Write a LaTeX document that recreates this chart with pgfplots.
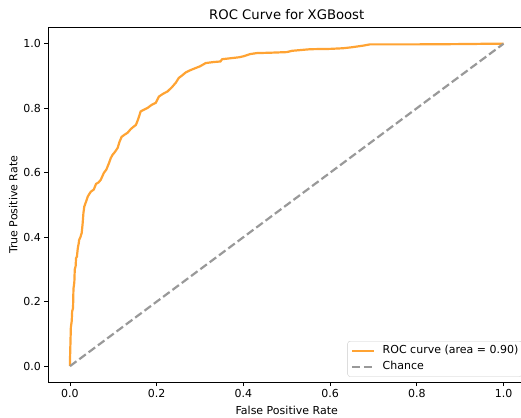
\documentclass[border=0pt]{standalone}
\usepackage{pgfplots}
\pgfplotsset{compat=1.18}
\usepackage{fontspec}
\setmainfont{DejaVu Sans}
\definecolor{rocorange}{RGB}{255,163,51}
\definecolor{chancegray}{RGB}{153,153,153}
\begin{document}
\begin{tikzpicture}
\begin{axis}[
  width=476.7pt, height=354.5pt, scale only axis,
  xmin=-0.05, xmax=1.05, ymin=-0.05, ymax=1.05,
  xtick={0,0.2,0.4,0.6,0.8,1.0}, ytick={0,0.2,0.4,0.6,0.8,1.0},
  xticklabel style={/pgf/number format/.cd,fixed,fixed zerofill,precision=1},
  yticklabel style={/pgf/number format/.cd,fixed,fixed zerofill,precision=1},
  /pgf/number format/assume math mode=true,
  tick label style={font=\fontsize{11}{13}\selectfont},
  tick align=outside, major tick length=3.85pt, xtick pos=lower, ytick pos=left,
  tick style={black, line width=0.88pt},
  axis line style={line width=0.88pt},
  title={ROC Curve for XGBoost},
  title style={font=\fontsize{13.2}{15}\selectfont, at={([yshift=6.6pt]rel axis cs:0.5,1)}, anchor=center},
  xlabel={False Positive Rate}, ylabel={True Positive Rate},
  label style={font=\fontsize{11}{13}\selectfont},
  xlabel style={at={([yshift=-28pt]rel axis cs:0.5,0)}, anchor=center},
  ylabel style={at={([xshift=-35pt]rel axis cs:0,0.5)}, anchor=center},
  legend style={font=\fontsize{11}{13}\selectfont, draw=black!20, fill=white, fill opacity=0.8, text opacity=1, rounded corners=2.5pt, inner xsep=3.6pt, inner ysep=4.4pt, row sep=5.5pt, at={([xshift=-3pt,yshift=5.5pt]rel axis cs:1,0)}, anchor=south east, nodes={inner xsep=0pt, inner ysep=0pt, text height=8pt, text depth=2.5pt}, /tikz/every odd column/.style={column sep=7.3pt}},
  legend cell align=left,
  legend image code/.code={\draw[#1] (0pt,0pt) -- (22pt,0pt);},
]
\addplot[rocorange, line width=2.2pt] coordinates {
(0,0) (0,0.02) (0.002,0.12) (0.004,0.14) (0.005,0.17) (0.007,0.18) (0.008,0.24) (0.010,0.26) (0.011,0.30) (0.013,0.31) (0.014,0.335) (0.016,0.34) (0.018,0.366) (0.020,0.38) (0.021,0.391) (0.024,0.40) (0.027,0.413) (0.029,0.44) (0.031,0.475) (0.033,0.495) (0.037,0.510) (0.041,0.526) (0.045,0.535) (0.048,0.541) (0.055,0.548) (0.060,0.565) (0.066,0.570) (0.071,0.578) (0.075,0.590) (0.078,0.599) (0.084,0.610) (0.090,0.630) (0.094,0.645) (0.098,0.655) (0.104,0.665) (0.110,0.677) (0.114,0.695) (0.119,0.711) (0.126,0.718) (0.133,0.724) (0.140,0.735) (0.146,0.742) (0.152,0.748) (0.157,0.765) (0.163,0.790) (0.170,0.795) (0.179,0.801) (0.188,0.810) (0.198,0.817) (0.205,0.836) (0.215,0.845) (0.225,0.852) (0.235,0.865) (0.244,0.879) (0.251,0.894) (0.259,0.902) (0.267,0.911) (0.276,0.917) (0.285,0.922) (0.300,0.930) (0.313,0.940) (0.330,0.943) (0.347,0.945) (0.351,0.952) (0.377,0.956) (0.390,0.958) (0.400,0.961) (0.416,0.968) (0.431,0.971) (0.460,0.972) (0.500,0.974) (0.512,0.978) (0.554,0.983) (0.600,0.984) (0.630,0.986) (0.650,0.989) (0.676,0.994) (0.692,0.998) (0.800,0.998) (0.914,0.999) (0.968,1.0) (1,1)
};
\addlegendentry{ROC curve (area = 0.90)}
\addplot[chancegray, line width=2.2pt, dash pattern=on 8.1pt off 3.5pt] coordinates {(0,0) (1,1)};
\addlegendentry{Chance}
\coordinate (sw) at (rel axis cs:0,0);
\coordinate (ne) at (rel axis cs:1,1);
\end{axis}
\pgfresetboundingbox
\path[use as bounding box] ([xshift=-48.3pt,yshift=-34.9pt]sw) rectangle ([xshift=-4.2pt,yshift=27.6pt]ne);
\end{tikzpicture}
\end{document}
